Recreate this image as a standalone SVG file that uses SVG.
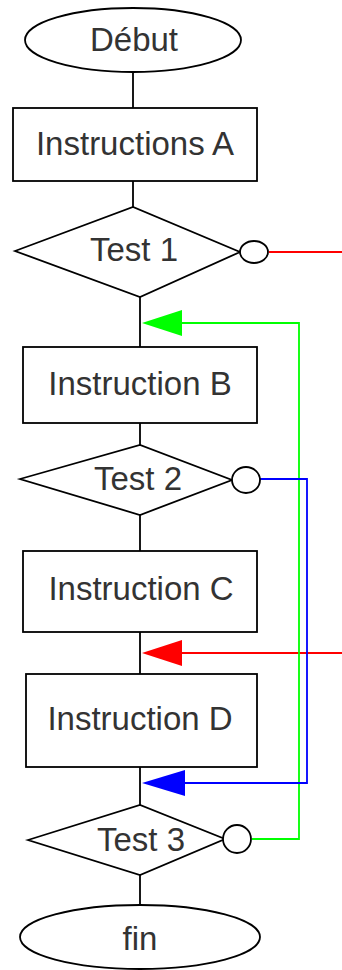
<svg xmlns="http://www.w3.org/2000/svg" width="342" height="970" viewBox="0 0 342 970">
<style>
.s{fill:#fff;stroke:#000;stroke-width:1.8}
.t{font-family:"Liberation Sans",Arial,sans-serif;font-size:33px;fill:#333;text-anchor:middle}
.k{fill:none;stroke:#000;stroke-width:1.8}
.r{fill:none;stroke:#f00;stroke-width:1.8}
.g{fill:none;stroke:#0f0;stroke-width:1.8}
.b{fill:none;stroke:#00f;stroke-width:1.8}
</style>
<rect width="342" height="970" fill="#fff"/>
<g id="connectors">
<path class="k" d="M133 72V108M133 181V207M140 297V347M140 423V445M140 515V551M140 632V674M140 767V805M140 875V906"/>
<path class="r" d="M269 252H342"/>
<path class="r" d="M182 653H342"/>
<polygon points="142,653 182,640 182,666" fill="#f00"/>
<path class="g" d="M252 839H299V323H182"/>
<polygon points="142,323 182,310 182,336" fill="#0f0"/>
<path class="b" d="M260 479H307V783H185"/>
<polygon points="142,783 185,770 185,796" fill="#00f"/>
</g>
<g id="debut">
<ellipse class="s" cx="133" cy="40" rx="108" ry="32"/>
<text class="t" x="134" y="51">Début</text>
</g>
<g id="instrA">
<rect class="s" x="13" y="108" width="244" height="73"/>
<text class="t" x="135" y="155">Instructions A</text>
</g>
<g id="test1">
<polygon class="s" points="15,251 133,207 240,252 140,297"/>
<ellipse class="s" cx="254" cy="252" rx="14" ry="11"/>
<text class="t" x="134" y="261">Test 1</text>
</g>
<g id="instrB">
<rect class="s" x="23" y="347" width="234" height="76"/>
<text class="t" x="140" y="395">Instruction B</text>
</g>
<g id="test2">
<polygon class="s" points="20,479 140,445 232,480 140,515"/>
<ellipse class="s" cx="246" cy="480" rx="14" ry="13"/>
<text class="t" x="138" y="490">Test 2</text>
</g>
<g id="instrC">
<rect class="s" x="23" y="551" width="234" height="81"/>
<text class="t" x="141" y="600">Instruction C</text>
</g>
<g id="instrD">
<rect class="s" x="26" y="674" width="231" height="93"/>
<text class="t" x="140" y="730">Instruction D</text>
</g>
<g id="test3">
<polygon class="s" points="28,840 140,805 225,839 140,875"/>
<ellipse class="s" cx="237" cy="839" rx="14" ry="14"/>
<text class="t" x="141" y="851">Test 3</text>
</g>
<g id="fin">
<ellipse class="s" cx="140" cy="937" rx="120" ry="32"/>
<text class="t" x="140" y="950">fin</text>
</g>
</svg>
